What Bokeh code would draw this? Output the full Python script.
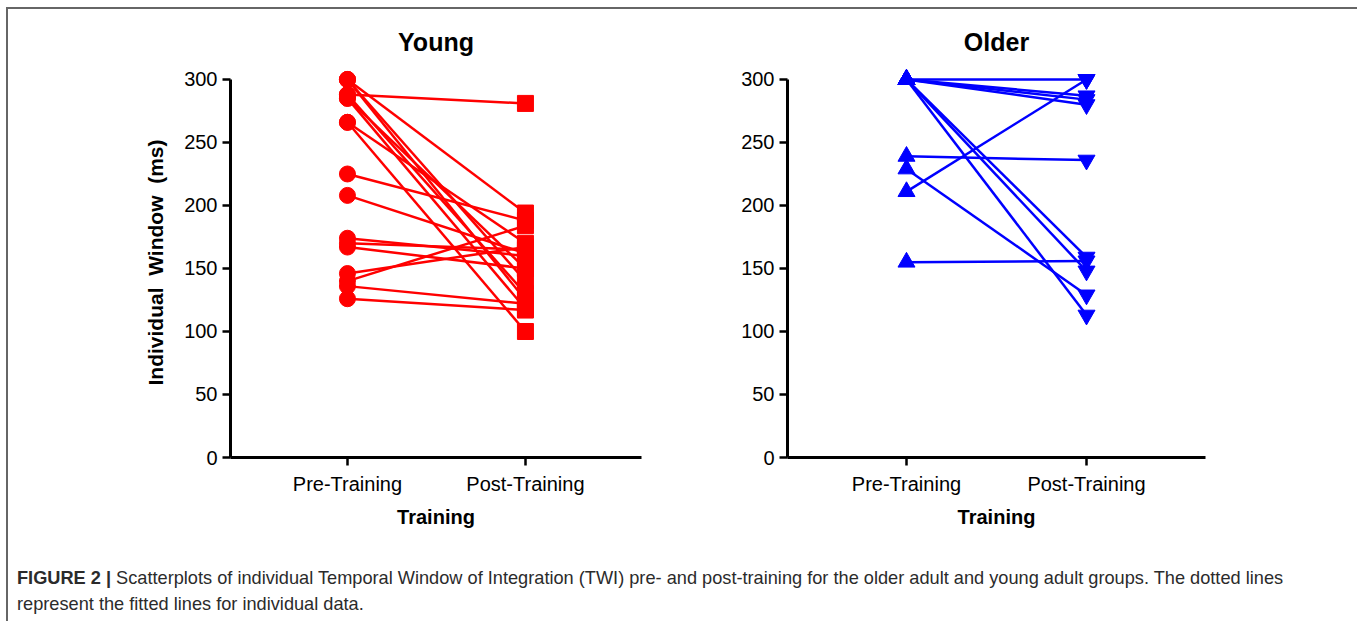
from bokeh.plotting import figure
from bokeh.models import FixedTicker, Range1d, Div
from bokeh.layouts import column, row
from bokeh.embed import file_html
from bokeh.resources import INLINE

# ---- data ----
conditions = ["Pre-Training", "Post-Training"]
young_pre = [300, 300, 300, 288, 288, 285, 285, 266, 266, 225, 208, 174, 170, 167, 146, 140, 136, 126]
young_post = [194, 140, 125, 281, 130, 150, 118, 100, 170, 188, 162, 160, 165, 150, 167, 184, 122, 117]
older_pre = [300, 300, 300, 300, 300, 300, 300, 239, 229, 211, 155]
older_post = [300, 287, 284, 280, 159, 148, 113, 236, 129, 300, 156]
y_ticks = [0, 50, 100, 150, 200, 250, 300]

FONT = "Liberation Sans"


def panel(title, pre, post, color, m_pre, m_post, x_start, x_end, frame_w,
          b_left, b_right, b_top, b_bottom, ylabel, msize):
    p = figure(width=b_left + frame_w + b_right, height=b_top + 390 + b_bottom,
               frame_width=frame_w, frame_height=390,
               min_border_left=b_left, min_border_right=b_right,
               min_border_top=b_top, min_border_bottom=b_bottom,
               x_range=Range1d(x_start, x_end), y_range=Range1d(0, 309.5),
               output_backend="svg", toolbar_location=None, title=title)
    p.outline_line_color = None
    p.grid.visible = False
    p.background_fill_color = "white"
    p.border_fill_color = "white"

    p.title.text_font = FONT
    p.title.text_font_size = "25px"
    p.title.text_font_style = "bold"
    p.title.align = "center"
    p.title.standoff = 23
    p.title.text_color = "black"

    n = len(pre)
    xs0 = [0] * n
    xs1 = [1] * n
    p.segment(x0=xs0, y0=pre, x1=xs1, y1=post, line_color=color, line_width=2.5)
    p.scatter(xs0, pre, marker=m_pre, size=msize, fill_color=color, line_color=color)
    p.scatter(xs1, post, marker=m_post, size=msize, fill_color=color, line_color=color)

    for ax in (p.xaxis[0], p.yaxis[0]):
        ax.axis_line_width = 3
        ax.axis_line_color = "black"
        ax.major_tick_line_width = 2.5
        ax.major_tick_out = 8
        ax.major_tick_in = 0
        ax.minor_tick_line_color = None
        ax.major_label_text_font = FONT
        ax.major_label_text_font_size = "20px"
        ax.major_label_text_color = "black"
        ax.axis_label_text_font = FONT
        ax.axis_label_text_font_size = "20px"
        ax.axis_label_text_font_style = "bold"
        ax.axis_label_text_color = "black"

    p.xaxis.ticker = FixedTicker(ticks=[0, 1])
    p.xaxis.major_label_overrides = {0: conditions[0], 1: conditions[1]}
    p.xaxis.bounds = (x_start, x_end)
    p.xaxis.axis_label = "Training"
    p.xaxis.major_label_standoff = 7
    p.xaxis.axis_label_standoff = 8

    p.yaxis.ticker = FixedTicker(ticks=y_ticks)
    p.yaxis.bounds = (0, 300)
    p.yaxis.major_label_standoff = 5
    if ylabel:
        p.yaxis.axis_label = ylabel
        p.yaxis.axis_label_standoff = 14
        p.yaxis.axis_label_text_font_size = "21px"
    return p


p1 = panel("Young", young_pre, young_post, "#ff0000", "circle", "square",
           -0.657, 1.652, 411, 222, 60, 56, 88, "Individual\u00a0 Window\u00a0 (ms)", 16)
p2 = panel("Older", older_pre, older_post, "#0000ff", "triangle", "inverted_triangle",
           -0.661, 1.661, 418, 86, 150, 58, 86, None, 17)

caption = Div(
    text='<b>FIGURE 2 |</b> Scatterplots of individual Temporal Window of Integration (TWI) '
         'pre- and post-training for the older adult and young adult groups. The dotted lines<br>'
         'represent the fitted lines for individual data.',
    width=1347, height=68,
    styles={"font-family": FONT, "font-size": "18.2px", "color": "#2b2b2b",
            "line-height": "26px", "padding-left": "4px", "padding-top": "17px",
            "box-sizing": "border-box"})

layout = column(row(p1, p2), caption,
                styles={"border": "2px solid #666666", "border-bottom": "none",
                        "margin-left": "6px", "margin-top": "7px"})

open("out.html", "w").write(file_html(layout, INLINE))
